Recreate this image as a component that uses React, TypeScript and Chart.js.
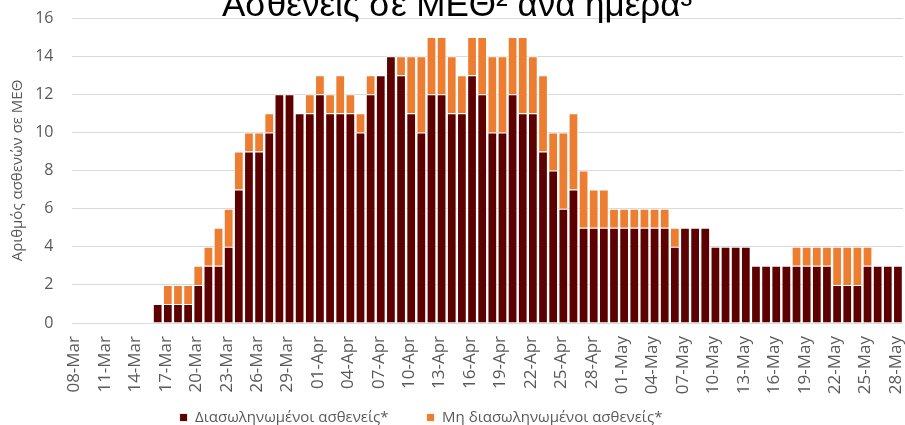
import React, { useEffect, useRef } from 'react';
import { Chart, registerables } from 'chart.js';

Chart.register(...registerables);

const dates = [
  '08-Mar', '09-Mar', '10-Mar', '11-Mar', '12-Mar', '13-Mar', '14-Mar', '15-Mar', '16-Mar', '17-Mar',
  '18-Mar', '19-Mar', '20-Mar', '21-Mar', '22-Mar', '23-Mar', '24-Mar', '25-Mar', '26-Mar', '27-Mar',
  '28-Mar', '29-Mar', '30-Mar', '31-Mar',
  '01-Apr', '02-Apr', '03-Apr', '04-Apr', '05-Apr', '06-Apr', '07-Apr', '08-Apr', '09-Apr', '10-Apr',
  '11-Apr', '12-Apr', '13-Apr', '14-Apr', '15-Apr', '16-Apr', '17-Apr', '18-Apr', '19-Apr', '20-Apr',
  '21-Apr', '22-Apr', '23-Apr', '24-Apr', '25-Apr', '26-Apr', '27-Apr', '28-Apr', '29-Apr', '30-Apr',
  '01-May', '02-May', '03-May', '04-May', '05-May', '06-May', '07-May', '08-May', '09-May', '10-May',
  '11-May', '12-May', '13-May', '14-May', '15-May', '16-May', '17-May', '18-May', '19-May', '20-May',
  '21-May', '22-May', '23-May', '24-May', '25-May', '26-May', '27-May', '28-May',
];

// Διασωληνωμένοι (intubated)
const intubated = [
  0, 0, 0, 0, 0, 0, 0, 0, 1, 1,
  1, 1, 2, 3, 3, 4, 7, 9, 9, 10,
  12, 12, 11, 11,
  12, 11, 11, 11, 10, 12, 13, 14, 13, 11,
  10, 12, 12, 11, 11, 13, 12, 10, 10, 12,
  11, 11, 9, 8, 6, 7, 5, 5, 5, 5,
  5, 5, 5, 5, 5, 4, 5, 5, 5, 4,
  4, 4, 4, 3, 3, 3, 3, 3, 3, 3,
  3, 2, 2, 2, 3, 3, 3, 3,
];

// Μη διασωληνωμένοι (non-intubated)
const nonIntubated = [
  0, 0, 0, 0, 0, 0, 0, 0, 0, 1,
  1, 1, 1, 1, 2, 2, 2, 1, 1, 1,
  0, 0, 0, 1,
  1, 1, 2, 1, 1, 1, 0, 0, 1, 3,
  4, 3, 3, 3, 2, 2, 3, 4, 4, 3,
  4, 3, 4, 2, 4, 4, 3, 2, 2, 1,
  1, 1, 1, 1, 1, 1, 0, 0, 0, 0,
  0, 0, 0, 0, 0, 0, 0, 1, 1, 1,
  1, 2, 2, 2, 1, 0, 0, 0,
];

const seriesNames = ['Διασωληνωμένοι ασθενείς*', 'Μη διασωληνωμένοι ασθενείς*'];
const seriesColors = ['#5C0000', '#ED7D31'];
const chartTitle = 'Ασθενείς σε ΜΕΘ² ανά ημέρα³';
const yAxisTitle = 'Αριθμός ασθενών σε ΜΕΘ';
const yMin = 0;
const yMax = 16;
const yStep = 2;
const labelEvery = 3;

const GRAY = '#595959';
const FONT = '"Open Sans", "Noto Sans", sans-serif';

const titlePlugin = {
  id: 'topTitle',
  afterDraw(chart: any) {
    const { ctx } = chart;
    ctx.save();
    ctx.font = '35px "Liberation Sans", Arial, sans-serif';
    ctx.fillStyle = '#000000';
    ctx.textAlign = 'center';
    ctx.textBaseline = 'alphabetic';
    ctx.fillText(chartTitle, 457, 16);
    ctx.restore();
  },
};

const layoutFixPlugin = {
  id: 'layoutFix',
  afterLayout(chart: any) {
    if (chart.legend) {
      chart.legend.left -= 35;
      chart.legend.right -= 35;
    }
    const x = chart.scales.x;
    if (x) {
      // let the rotated tick labels run under the legend without being clipped
      x.bottom = chart.height;
      x.height = x.bottom - x.top;
    }
  },
};

export default function App() {
  const canvasRef = useRef<HTMLCanvasElement | null>(null);

  useEffect(() => {
    if (!canvasRef.current) return;
    const chart = new Chart(canvasRef.current, {
      type: 'bar',
      data: {
        labels: dates,
        datasets: [
          {
            label: seriesNames[0],
            data: intubated,
            backgroundColor: seriesColors[0],
            borderColor: 'rgba(255,255,255,0.85)',
            borderWidth: 1,
            barPercentage: 0.96,
            categoryPercentage: 1,
          },
          {
            label: seriesNames[1],
            data: nonIntubated,
            backgroundColor: seriesColors[1],
            borderColor: 'rgba(255,255,255,0.85)',
            borderWidth: 1,
            barPercentage: 0.96,
            categoryPercentage: 1,
          },
        ],
      },
      options: {
        responsive: false,
        animation: false,
        layout: { padding: { top: 18, left: 9, right: 2, bottom: -10 } },
        plugins: {
          title: { display: false },
          tooltip: { enabled: false },
          legend: {
            position: 'bottom',
            labels: {
              boxWidth: 8,
              boxHeight: 8,
              padding: 38,
              color: GRAY,
              font: { family: FONT, size: 15 },
            },
          },
        },
        scales: {
          x: {
            stacked: true,
            offset: true,
            grid: { display: false, drawTicks: false },
            border: { display: false },
            ticks: {
              autoSkip: false,
              minRotation: 90,
              maxRotation: 90,
              padding: 13,
              labelOffset: -2,
              color: GRAY,
              font: { family: FONT, size: 17 },
              callback: (_v: any, i: number) => (i % labelEvery === 0 ? dates[i] : ''),
            },
            afterFit: (scale: any) => {
              scale.paddingLeft = 0;
              scale.paddingRight = 0;
              scale.height = 49;
            },
          },
          y: {
            stacked: true,
            min: yMin,
            max: yMax,
            grid: { color: '#D9D9D9', lineWidth: 1, drawTicks: false },
            border: { display: false },
            ticks: {
              stepSize: yStep,
              padding: 18,
              color: GRAY,
              font: { family: FONT, size: 16 },
            },
            title: {
              display: true,
              text: yAxisTitle,
              color: GRAY,
              padding: { top: 0, bottom: 8 },
              font: { family: FONT, size: 15 },
            },
            afterFit: (scale: any) => {
              scale.width = 62.5;
              scale.paddingTop = 0;
              scale.paddingBottom = 0;
            },
          },
        },
      },
      plugins: [titlePlugin, layoutFixPlugin],
    });
    return () => chart.destroy();
  }, []);

  return (
    <div style={{ position: 'fixed', left: 0, top: 0, width: 905, height: 425, overflow: 'hidden', background: '#fff' }}>
      <canvas ref={canvasRef} width={905} height={425} />
    </div>
  );
}
